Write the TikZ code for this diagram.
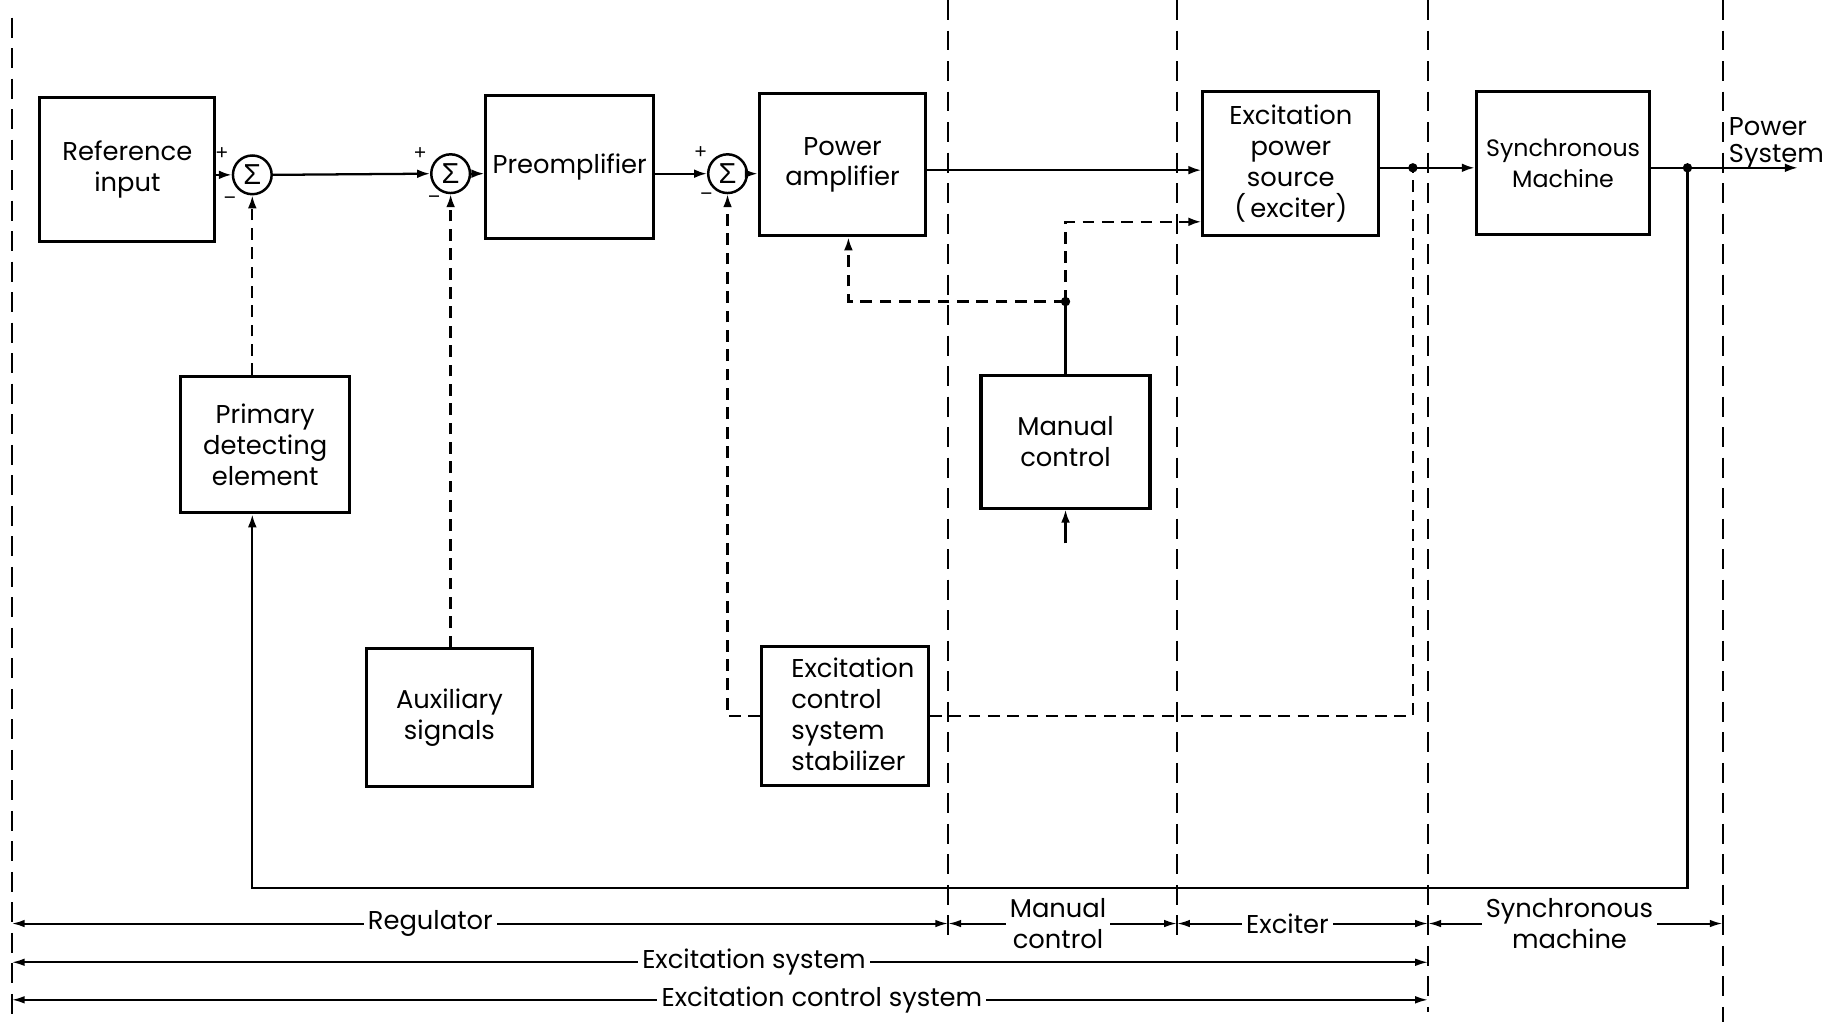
\documentclass[tikz,border=0pt]{standalone}
\usepackage{fontspec}
\setmainfont{Poppins}
\newfontfamily\symf{Liberation Sans}
\usetikzlibrary{arrows.meta}
\begin{document}
\begin{tikzpicture}[x=0.2mm,y=-0.2mm,
  font=\fontsize{12.5}{15}\selectfont,
  blk/.style={draw,line width=1.5pt,inner sep=0pt,align=center},
  sumnode/.style={draw,circle,line width=1.2pt,minimum size=6.6mm,inner sep=0pt,font=\symf\fontsize{14}{14}\selectfont},
  sig/.style={line width=1.1pt},
  arr/.style={sig,-{Latex[length=2.2mm,width=1.5mm]}},
  dsh/.style={dash pattern=on 2mm off 1.3mm},
  bnd/.style={line width=0.8pt,dash pattern=on 3.4mm off 1.8mm},
  dimarr/.style={line width=1pt,{Latex[length=2.2mm,width=1.3mm]}-{Latex[length=2.2mm,width=1.3mm]}},
  dimlbl/.style={fill=white,inner sep=2pt,align=center},
  sgn/.style={font=\symf\fontsize{10}{10}\selectfont,inner sep=0pt},
  jdot/.style={circle,fill,inner sep=0pt,minimum size=1.6mm},
]
\useasboundingbox[fill=white] (0,0) rectangle (1568,871);

% boundaries
\draw[bnd] (10,15) -- (10,871);
\draw[bnd] (808,0) -- (808,800);
\draw[bnd] (1003,0) -- (1003,800);
\draw[bnd] (1217,0) -- (1217,862);
\draw[bnd] (1468,0) -- (1468,871);

% blocks
\node[blk,minimum width=29.8mm,minimum height=24.6mm] (ref) at (108.5,144.5) {Reference\\input};
\node[blk,minimum width=28.6mm,minimum height=24.4mm] (pre) at (485.5,142) {Preomplifier};
\node[blk,minimum width=28.4mm,minimum height=24.2mm] (pa) at (718,140.5) {Power\\amplifier};
\node[blk,minimum width=30mm,minimum height=24.6mm] (exc) at (1100,139.5) {Excitation\\power\\source\\(\,exciter)};
\node[blk,minimum width=29.6mm,minimum height=24.4mm,font=\fontsize{11.5}{15}\selectfont] (sync) at (1332,139) {Synchronous\\Machine};
\node[blk,minimum width=28.8mm,minimum height=23.2mm] (prim) at (226,379) {Primary\\detecting\\element};
\node[blk,minimum width=28.4mm,minimum height=23.4mm] (aux) at (383,611.5) {Auxiliary\\signals};
\node[blk,minimum width=28.4mm,minimum height=23.6mm] (stab) at (720,610) {};
\node[align=left,anchor=west,inner sep=0pt] (stabt) at (674,609) {Excitation\\control\\system\\stabilizer};
\node[blk,minimum width=28.8mm,minimum height=22.6mm] (man) at (908,376.5) {Manual\\control};

% summing points
\node[sumnode] (s1) at (215,149) {Σ};
\node[sumnode] (s2) at (384,148) {Σ};
\node[sumnode] (s3) at (620,148) {Σ};
\node[sgn] (p1) at (189,131) {+};
\node[sgn] (m1) at (196,171) {−};
\node[sgn] (p2) at (358,131) {+};
\node[sgn] (m2) at (370,170) {−};
\node[sgn] (p3) at (597,130) {+};
\node[sgn] (m3) at (602,168) {−};

% rows and junctions
\coordinate (r2) at (0,145);
\coordinate (r3) at (0,143);
\node[jdot] (j1) at (1204,143) {};
\node[jdot] (j2) at (1438,143) {};
\node[jdot] (jm) at (908,257) {};
\coordinate (pout) at (1532,143);
\coordinate (mi) at (908,463);
\coordinate (fb) at (1438,757);

% main forward path
\draw[arr] (s1 -| ref.east) -- (s1.west);
\draw[arr] (s1.east) -- (s2.west);
\draw[arr] (s2.east) -- (pre.west |- s2);
\draw[arr] (pre.east |- s3) -- (s3.west);
\draw[arr] (s3.east) -- (pa.west |- s3);
\draw[arr] (pa.east |- r2) -- (exc.west |- r2);
\draw[sig] (exc.east |- r3) -- (j1.center);
\draw[arr] (j1.center) -- (sync.west |- r3);
\draw[arr] (sync.east |- r3) -- (pout);
\node[align=left,anchor=west,inner sep=0pt,font=\fontsize{12.5}{13}\selectfont] (psys) at (1473,122) {Power\\System};

% feedback
\draw[arr] (j2.center) -- (fb) -- (fb -| s1) -- (prim.south -| s1);
\draw[arr,dsh] (prim.north -| s1) -- (s1.south);
\draw[arr,dsh] (aux.north -| s2) -- (s2.south);
\draw[arr,dsh] (stab.west) -| (s3.south);
\draw[sig,dsh] (stab.east) -| (j1.center);

% manual control
\draw[arr] (mi) -- (man.south);
\draw[sig] (man.north) -- (jm.center);
\draw[arr,dsh] (jm.center) -| ([xshift=1mm]pa.south);
\draw[arr,dsh] (jm.center) |- ([yshift=-9.9mm]exc.west);

% dimension lines
\coordinate (dL) at (10,787);
\coordinate (d1) at (808,787);
\coordinate (d2) at (1003,787);
\coordinate (d3) at (1217,787);
\coordinate (d4) at (1468,787);
\draw[dimarr] (dL) -- node[dimlbl,pos=0.447] (tReg) {Regulator} (d1);
\draw[dimarr] (d1) -- node[dimlbl,pos=0.48] (tMan) {Manual\\control} (d2);
\draw[dimarr] (d2) -- node[dimlbl,pos=0.44] (tExc) {Exciter} (d3);
\draw[dimarr] (d3) -- node[dimlbl,pos=0.48] (tSyn) {Synchronous\\machine} (d4);
\coordinate (eL) at (10,820);
\coordinate (eR) at (1217,820);
\draw[dimarr] (eL) -- node[dimlbl,pos=0.524] (tES) {Excitation system} (eR);
\coordinate (cL) at (10,852);
\coordinate (cR) at (1217,852);
\draw[dimarr] (cL) -- node[dimlbl,pos=0.572] (tECS) {Excitation control system} (cR);
\end{tikzpicture}
\end{document}
